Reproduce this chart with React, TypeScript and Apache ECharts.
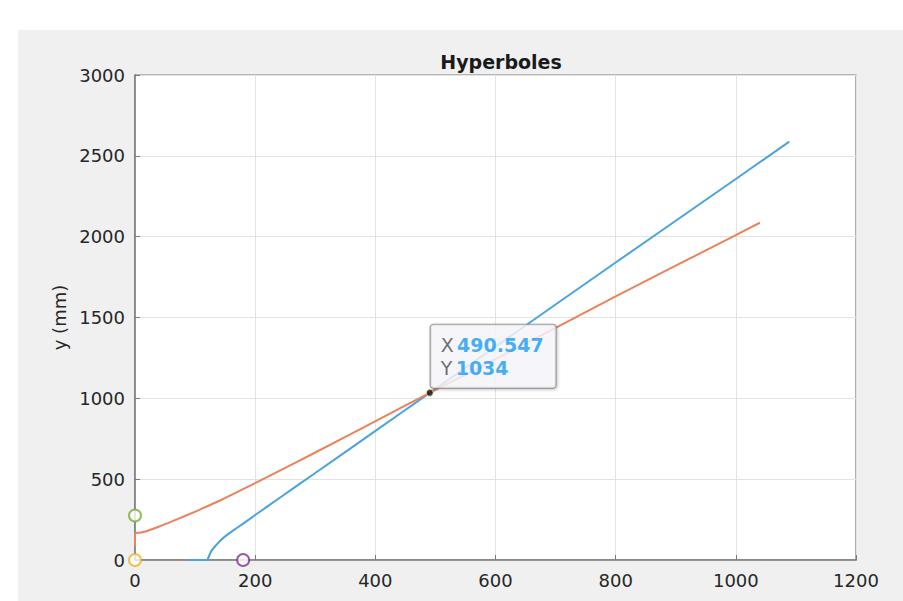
import React, { useEffect, useRef } from "react";
import * as echarts from "echarts";

const xTicks = [0, 200, 400, 600, 800, 1000, 1200];
const yTicks = [0, 500, 1000, 1500, 2000, 2500, 3000];

const blueX = [90, 120, 122, 127, 135, 141.5, 150, 163.6, 180, 200, 241, 300, 402, 490.547, 600, 800, 1000, 1089];
const blueY = [0, 0, 14, 55, 92, 118, 146, 183, 225, 278, 385, 538, 803, 1034, 1320, 1840, 2357, 2588];

const orangeX = [0, 0, 10, 20, 40.5, 62.6, 85, 108, 141.5, 200, 241, 300, 402, 490.547, 600, 800, 1000, 1040];
const orangeY = [85, 165, 170, 179, 207, 240, 275, 312, 368, 475, 553, 665, 862, 1034, 1242, 1630, 2010, 2086];

const markerNames = ["green", "yellow", "purple"];
const markerX = [0, 0, 180];
const markerY = [275, 0, 0];
const markerColors = ["#77ac30", "#edb120", "#7e2f8e"];

const tipX = 490.547;
const tipY = 1034;

const FONT = "DejaVu Sans";

export default function App() {
  const ref = useRef<HTMLDivElement>(null);
  useEffect(() => {
    if (!ref.current) return;
    const chart = echarts.init(ref.current, undefined, { renderer: "svg" });
    const markerSeries = markerNames.map((n, i) => ({
      name: n,
      type: "scatter",
      symbol: "emptyCircle",
      symbolSize: 12,
      zlevel: 1,
      z: 5,
      clip: false,
      itemStyle: { color: markerColors[i], borderColor: markerColors[i], borderWidth: 1.5 },
      data: [[markerX[i], markerY[i]]],
    }));
    chart.setOption({
      animation: false,
      backgroundColor: "#ffffff",
      graphic: [
        {
          type: "rect",
          z: -10,
          silent: true,
          shape: { x: 18, y: 30, width: 903 - 18, height: 601 - 30 },
          style: { fill: "#f0f0f0" },
        },
      ],
      title: {
        text: "Hyperboles",
        left: 496,
        textAlign: "center",
        top: 47,
        textStyle: { fontFamily: FONT, fontSize: 19, fontWeight: "bold", color: "#1a1a1a" },
      },
      grid: {
        left: 135,
        right: 47,
        top: 75,
        bottom: 41,
        show: true,
        backgroundColor: "#ffffff",
        borderColor: "#7a7a7a",
        borderWidth: 1.2,
      },
      xAxis: {
        type: "value",
        min: xTicks[0],
        max: xTicks[xTicks.length - 1],
        interval: 200,
        axisLine: { show: true, onZero: false, lineStyle: { color: "#7a7a7a", width: 1.5 } },
        axisTick: { show: true, inside: true, length: 5, lineStyle: { color: "#7a7a7a" } },
        splitLine: { show: true, lineStyle: { color: "#e3e3e3", width: 1 } },
        axisLabel: {
          fontFamily: FONT,
          fontSize: 18,
          color: "#262626",
          margin: 11,
          formatter: (v: number) => String(v),
        },
      },
      yAxis: {
        type: "value",
        min: yTicks[0],
        max: yTicks[yTicks.length - 1],
        interval: 500,
        name: "y (mm)",
        nameLocation: "middle",
        nameGap: 63,
        nameTextStyle: { fontFamily: FONT, fontSize: 18, color: "#262626" },
        axisLine: { show: true, onZero: false, lineStyle: { color: "#7a7a7a", width: 1.5 } },
        axisTick: { show: true, inside: true, length: 5, lineStyle: { color: "#7a7a7a" } },
        splitLine: { show: true, lineStyle: { color: "#e3e3e3", width: 1 } },
        axisLabel: {
          fontFamily: FONT,
          fontSize: 18,
          color: "#262626",
          margin: 10,
          formatter: (v: number) => String(v),
        },
      },
      series: [
        {
          name: "blue",
          type: "line",
          showSymbol: false,
          smooth: 0.25,
          clip: false,
          zlevel: 1,
          z: 3,
          lineStyle: { color: "#4aa3dc", width: 2 },
          data: blueX.map((x, i) => [x, blueY[i]]),
        },
        {
          name: "orange",
          type: "line",
          showSymbol: false,
          smooth: 0.25,
          clip: false,
          zlevel: 1,
          z: 3,
          lineStyle: { color: "#e9835c", width: 2 },
          data: orangeX.map((x, i) => [x, orangeY[i]]),
        },
        ...markerSeries,
        {
          name: "datatip",
          type: "scatter",
          symbol: "circle",
          symbolSize: 7,
          zlevel: 2,
          z: 10,
          itemStyle: { color: "#111111", borderColor: "#e8e8b0", borderWidth: 1 },
          label: {
            show: true,
            position: [5, -64],
            backgroundColor: "#f9f9fe",
            borderColor: "#8a8a8a",
            borderWidth: 1.2,
            borderRadius: 3,
            shadowColor: "rgba(0,0,0,0.25)",
            shadowBlur: 3,
            shadowOffsetX: 1,
            shadowOffsetY: 1,
            padding: [9, 12, 8, 10],
            formatter: () => `{k|X} {v|${tipX}}\n{k|Y} {v|${tipY}}`,
            rich: {
              k: { fontFamily: FONT, fontSize: 19, color: "#4a4a4a", lineHeight: 23 },
              v: { fontFamily: FONT, fontSize: 19, fontWeight: "bold", color: "#149af5", lineHeight: 23 },
            },
          },
          data: [[tipX, tipY]],
        },
      ],
    });
    return () => chart.dispose();
  }, []);
  return (
    <div
      ref={ref}
      style={{ position: "fixed", left: 0, top: 0, width: 903, height: 601 }}
    />
  );
}
